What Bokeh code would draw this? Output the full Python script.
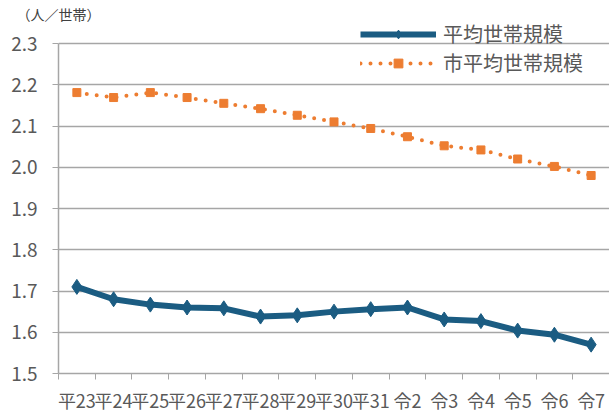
from bokeh.plotting import figure
from bokeh.models import FixedTicker, Legend, LegendItem, Range1d, ColumnDataSource
from bokeh.embed import file_html
from bokeh.resources import INLINE

categories = ["平23", "平24", "平25", "平26", "平27", "平28", "平29", "平30", "平31",
              "令2", "令3", "令4", "令5", "令6", "令7"]
household_size = [1.71, 1.68, 1.667, 1.66, 1.658, 1.638, 1.641, 1.65, 1.656,
                  1.66, 1.631, 1.627, 1.604, 1.594, 1.57]
city_household_size = [2.181, 2.169, 2.181, 2.169, 2.155, 2.142, 2.126, 2.11, 2.094,
                       2.074, 2.052, 2.042, 2.02, 2.002, 1.98]
y_ticks = [1.5, 1.6, 1.7, 1.8, 1.9, 2.0, 2.1, 2.2, 2.3]
unit_label = "（人／世帯）"

FONT = "Noto Sans CJK JP"
GRAY = "#a6a6a6"
TXT = "#595959"
BLUE = "#1b5c82"
ORANGE = "#ed7d31"

xs = list(range(1, len(categories) + 1))
src = ColumnDataSource(dict(x=xs, a=household_size, b=city_household_size))

TOP = 14
y_top = 2.3 + (43 - TOP) / (330 / 0.8)
p = figure(width=609, height=415, output_backend="svg", toolbar_location=None,
           x_range=Range1d(0.5, len(categories) + 0.5), y_range=Range1d(1.5, y_top),
           min_border_left=58, min_border_right=0, min_border_top=TOP, min_border_bottom=42)
p.outline_line_color = None
p.background_fill_color = "white"

p.title.text = unit_label
p.title.text_font = FONT
p.title.text_font_size = "14px"
p.title.text_font_style = "normal"
p.title.text_color = "#404040"
p.title.align = "left"
p.title.vertical_align = "bottom"
p.title.offset = -42
p.title.standoff = -18

# x axis
p.xaxis.ticker = FixedTicker(ticks=xs, minor_ticks=[x + 0.5 for x in range(0, len(categories) + 1)])
p.xaxis.major_label_overrides = {x: c for x, c in zip(xs, categories)}
p.xaxis.major_tick_out = 0
p.xaxis.major_tick_in = 0
p.xaxis.minor_tick_out = 6
p.xaxis.minor_tick_in = 0
p.xaxis.minor_tick_line_color = GRAY
p.xaxis.axis_line_color = GRAY
p.xaxis.axis_line_width = 1.5
p.xaxis.major_label_text_font = FONT
p.xaxis.major_label_text_font_size = "18px"
p.xaxis.major_label_text_color = TXT
p.xaxis.major_label_standoff = 7

# y axis
p.yaxis.ticker = FixedTicker(ticks=y_ticks)
p.yaxis.bounds = (1.5, 2.3)
p.yaxis.major_label_overrides = {v: f"{v:.1f}" for v in y_ticks}
p.yaxis.minor_tick_line_color = None
p.yaxis.major_tick_out = 6
p.yaxis.major_tick_in = 0
p.yaxis.major_tick_line_color = GRAY
p.yaxis.axis_line_color = GRAY
p.yaxis.axis_line_width = 1.5
p.yaxis.major_label_text_font = FONT
p.yaxis.major_label_text_font_size = "19px"
p.yaxis.major_label_text_color = TXT
p.yaxis.major_label_standoff = 15

p.xgrid.grid_line_color = None
p.ygrid.grid_line_color = GRAY
p.ygrid.grid_line_width = 1.5
p.ygrid.ticker = FixedTicker(ticks=y_ticks)

# series
l1 = p.line("x", "a", source=src, line_color=BLUE, line_width=6)
m1 = p.scatter("x", "a", source=src, marker="diamond", size=15, color=BLUE)
l2 = p.line("x", "b", source=src, line_color=ORANGE, line_width=4, line_dash="0 10", line_cap="round")
m2 = p.scatter("x", "b", source=src, marker="square", size=8, color=ORANGE)

legend = Legend(items=[LegendItem(label="平均世帯規模", renderers=[l1, m1]),
                       LegendItem(label="市平均世帯規模", renderers=[l2, m2])],
                location=(302, 296), orientation="vertical")
legend.glyph_width = 76
legend.glyph_height = 22
legend.label_text_font = FONT
legend.label_text_font_size = "20px"
legend.label_text_color = TXT
legend.label_standoff = 7
legend.spacing = -2
legend.padding = 0
legend.margin = 0
legend.border_line_color = None
legend.background_fill_alpha = 0
p.add_layout(legend, "center")

open("out.html", "w").write(file_html(p, INLINE))
